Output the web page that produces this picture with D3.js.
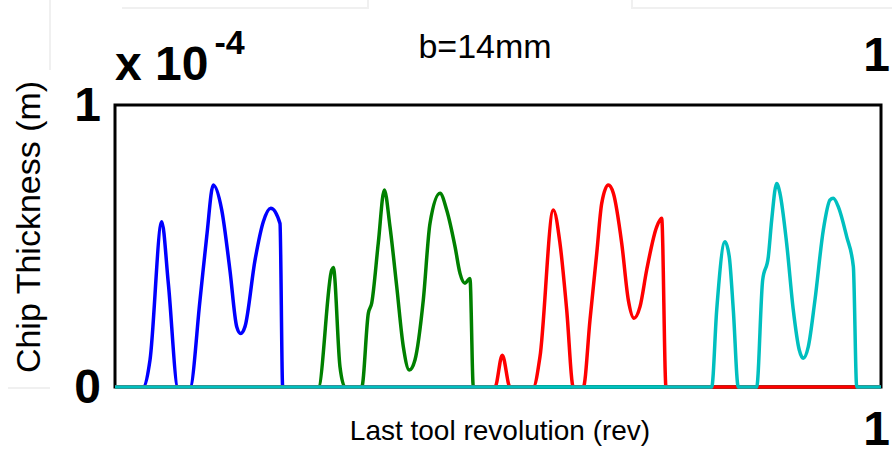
<!DOCTYPE html>
<html>
<head>
<meta charset="utf-8">
<script src="https://cdn.jsdelivr.net/npm/d3@7"></script>
<style>
  body { margin: 0; background: #fff; }
  svg { display: block; font-family: Arial, "Liberation Sans", sans-serif; }
</style>
</head>
<body>
<svg id="chart" width="892" height="454"></svg>
<script>
// chip thickness over the last tool revolution, y in units of 1e-4 m
const blueX  = [0, 0.0366, 0.0457, 0.0610, 0.0696, 0.0822, 0.0979, 0.111, 0.1197, 0.1283, 0.1393, 0.150, 0.1589, 0.1641, 0.1697, 0.1828, 0.1936, 0.2033, 0.2154, 0.2189, 1];
const blueY  = [0, 0, 0.096, 0.586, 0.368, 0, 0, 0.309, 0.533, 0.716, 0.628, 0.415, 0.214, 0.190, 0.214, 0.450, 0.586, 0.634, 0.580, 0, 0];

const greenX = [0, 0.2654, 0.2829, 0.2850, 0.2937, 0.3003, 0.3221, 0.3307, 0.3351, 0.3437, 0.3516, 0.3590, 0.3678, 0.3764, 0.3842, 0.3916, 0.4025, 0.4112, 0.4243, 0.4330, 0.4439, 0.4504, 0.4569, 0.4634, 0.4678, 1];
const greenY = [0, 0, 0.415, 0.424, 0.072, 0, 0, 0.261, 0.297, 0.510, 0.699, 0.568, 0.356, 0.143, 0.060, 0.096, 0.309, 0.580, 0.687, 0.628, 0.498, 0.403, 0.368, 0.385, 0, 0];

const redX   = [0, 0.4961, 0.5056, 0.5157, 0.5461, 0.5548, 0.5722, 0.5809, 0.5897, 0.5983, 0.6114, 0.6201, 0.6289, 0.6354, 0.6440, 0.6506, 0.6615, 0.6701, 0.6775, 0.6854, 0.6941, 0.7072, 0.7137, 0.7193, 1];
const redY   = [0, 0, 0.113, 0, 0, 0.107, 0.628, 0.510, 0.273, 0, 0, 0.238, 0.474, 0.651, 0.716, 0.687, 0.510, 0.309, 0.244, 0.285, 0.415, 0.568, 0.598, 0, 0];

const cyanX  = [0, 0.7790, 0.7855, 0.7963, 0.8019, 0.8072, 0.8137, 0.8377, 0.8455, 0.8529, 0.8573, 0.8638, 0.8681, 0.8768, 0.8855, 0.8933, 0.8986, 0.9051, 0.9138, 0.9247, 0.9334, 0.9377, 0.9443, 0.9552, 0.9639, 0.9683, 1];
const cyanY  = [0, 0, 0.273, 0.515, 0.462, 0.273, 0, 0, 0.379, 0.462, 0.592, 0.722, 0.687, 0.510, 0.273, 0.131, 0.102, 0.143, 0.309, 0.557, 0.663, 0.669, 0.639, 0.533, 0.427, 0, 0];

const yTicks = [0, 1];
const xTicks = [1];

const series = [
  {x: blueX,  y: blueY,  color: "#0000ff"},
  {x: greenX, y: greenY, color: "#008000"},
  {x: redX,   y: redY,   color: "#ff0000"},
  {x: cyanX,  y: cyanY,  color: "#00bfbf"}
];

const svg = d3.select("#chart"),
    margin = {top: 105, right: 11, bottom: 67, left: 115},
    width = 892 - margin.left - margin.right,
    height = 454 - margin.top - margin.bottom;

// faint leftover frames from the source image
svg.append("path")
    .attr("d", "M122,8H368V0 M632,0V8H892 M50,0V70 M8,388H50")
    .attr("fill", "none")
    .attr("stroke", "#f0f0f0")
    .attr("stroke-width", 2);

const g = svg.append("g").attr("transform", `translate(${margin.left},${margin.top})`);

const xScale = d3.scaleLinear().domain([0, 1]).range([0, width]);
const yScale = d3.scaleLinear().domain([0, 1]).range([height, 0]);

// box
g.append("rect")
    .attr("width", width)
    .attr("height", height)
    .attr("fill", "none")
    .attr("stroke", "#000")
    .attr("stroke-width", 3);

const line = d3.line()
    .x(d => xScale(d[0]))
    .y(d => yScale(d[1]))
    .curve(d3.curveMonotoneX);

series.forEach(s => {
  g.append("path")
      .datum(s.x.map((v, i) => [v, s.y[i]]))
      .attr("fill", "none")
      .attr("stroke", s.color)
      .attr("stroke-width", 3.5)
      .attr("stroke-linejoin", "round")
      .attr("d", line);
});

// axes (labels only)
function styleAxis(sel) {
  sel.select(".domain").remove();
  sel.selectAll("line").remove();
  sel.selectAll("text")
      .attr("fill", "#000")
      .style("font-size", "48px")
      .style("font-weight", "bold");
}

g.append("g")
    .call(d3.axisLeft(yScale).tickValues(yTicks).tickFormat(d3.format("d")).tickSize(0).tickPadding(14))
    .call(styleAxis);

g.append("g")
    .attr("transform", `translate(0,${height})`)
    .call(d3.axisBottom(xScale).tickValues(xTicks).tickFormat(d3.format("d")).tickSize(0).tickPadding(24))
    .call(styleAxis)
    .selectAll("text").attr("dx", "-5");

g.append("g")
    .call(d3.axisTop(xScale).tickValues(xTicks).tickFormat(d3.format("d")).tickSize(0).tickPadding(34))
    .call(styleAxis)
    .selectAll("text").attr("dx", "-5");

// exponent
const expo = svg.append("text")
    .attr("x", 115)
    .attr("y", 80)
    .style("font-size", "48px")
    .style("font-weight", "bold");
expo.append("tspan").text("x 10");
expo.append("tspan")
    .attr("dx", 6)
    .attr("dy", -26)
    .style("font-size", "34px")
    .text("-4");

// title
svg.append("text")
    .attr("x", 485)
    .attr("y", 58)
    .style("text-anchor", "middle")
    .style("font-size", "34px")
    .text("b=14mm");

// axis titles
svg.append("text")
    .attr("transform", "translate(40,227) rotate(-90)")
    .style("text-anchor", "middle")
    .style("font-size", "34px")
    .text("Chip Thickness (m)");

svg.append("text")
    .attr("x", 500)
    .attr("y", 440)
    .style("text-anchor", "middle")
    .style("font-size", "28px")
    .text("Last tool revolution (rev)");
</script>
</body>
</html>
